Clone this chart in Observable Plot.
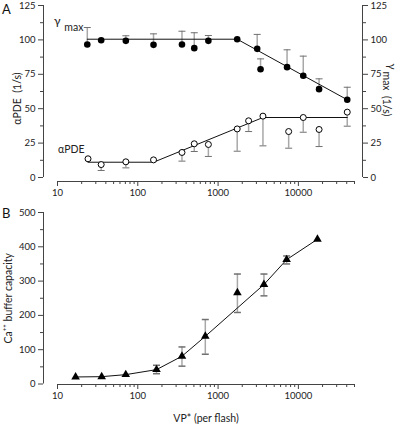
<!DOCTYPE html>
<html><head><meta charset="utf-8">
<script src="https://cdn.jsdelivr.net/npm/d3@7"></script>
<script src="https://cdn.jsdelivr.net/npm/@observablehq/plot@0.6"></script>
<style>
body{margin:0;background:#fff;}
#chart{width:400px;height:425px;position:relative;font-family:Lato,'Open Sans',sans-serif;}
#chart svg{display:block;}
.panel{position:absolute;left:2px;font-size:13px;color:#111;line-height:1;}
</style></head><body><div id="chart"><div class="panel" style="top:3px">A</div><div class="panel" style="top:207px">B</div></div>
<script>
// ---- shared x axis ----
const xDomain = [10, 50000];
const xTicksMajor = [10, 100, 1000, 10000];
const xTicksMinor = [20,30,40,50,60,70,80,90,200,300,400,500,600,700,800,900,2000,3000,4000,5000,6000,7000,8000,9000,20000,30000,40000,50000];

// ---- Panel A ----
const yTicksA = [0, 25, 50, 75, 100, 125];
const yMinorA = [12.5, 37.5, 62.5, 87.5, 112.5];
const gammaVP = [23.5, 35, 71, 157, 355, 505, 757, 1730, 3070, 3380, 7230, 11500, 18100, 40600];
const gammaMax = [96.7, 99.8, 99.3, 96.4, 96.7, 94, 99.3, 100.5, 93.5, 78.7, 80.2, 73.9, 64.2, 56.5];
const gammaErrTop = [109, null, 103, 104.4, 106.3, 105.2, 103.2, null, 104, 86.2, 92.8, 88.2, 71.7, 65.6];
const gammaFitVP = [23.5, 1730, 40600];
const gammaFit = [100.5, 100.5, 56.5];

const alphaVP = [24, 35, 71, 157, 355, 505, 757, 1730, 2400, 3620, 7570, 11500, 18100, 40600];
const alphaPDE = [13.6, 9.4, 11.4, 12.8, 18.2, 24.5, 24, 35.3, 41.2, 44.6, 33.4, 43.6, 34.9, 47.5];
const alphaErrBottom = [null, 5.1, 7, null, 11.9, 18.9, 15.3, 19.1, 33.4, 23, 21.3, 32.9, 22.5, 37.3];
const alphaFitVP = [24, 157, 3620, 40600];
const alphaFit = [11.1, 11.1, 43.6, 43.6];

// ---- Panel B ----
const yTicksB = [0, 100, 200, 300, 400, 500];
const yMinorB = [50, 150, 250, 350, 450];
const bufVP = [16.8, 35.5, 70.8, 171, 355, 693, 1740, 3725, 7140, 17280];
const bufCap = [20.5, 21.4, 27.3, 41.9, 81, 139, 266, 290, 362.6, 422];
const bufErrLow = [null, null, null, 30, 52, 86.8, 208.5, 257, 350, null];
const bufErrHigh = [null, null, null, 54.6, 108, 188, 320.6, 320.6, 373.3, null];
const bufFitVP = [16.8, 35.5, 70.8, 171, 355, 693, 3725, 7140, 17280];
const bufFit = [20.5, 21.4, 27.3, 41.9, 81, 139, 290, 362.6, 422];

const font = "Lato, 'Open Sans', sans-serif";
const capSymbol = {draw(ctx) { ctx.moveTo(-3.5, 0); ctx.lineTo(3.5, 0); }};
const stemColor = "#a8a8a8", capColor = "#707070", axisColor = "#444";

const gammaRows = gammaVP.map((vp, i) => ({vp, v: gammaMax[i], e: gammaErrTop[i]}));
const alphaRows = alphaVP.map((vp, i) => ({vp, v: alphaPDE[i], e: alphaErrBottom[i]}));
const gammaFitRows = gammaFitVP.map((vp, i) => ({vp, v: gammaFit[i]}));
const alphaFitRows = alphaFitVP.map((vp, i) => ({vp, v: alphaFit[i]}));
const bufRows = bufVP.map((vp, i) => ({vp, v: bufCap[i], lo: bufErrLow[i], hi: bufErrHigh[i]}));
const bufFitRows = bufFitVP.map((vp, i) => ({vp, v: bufFit[i]}));

function xAxes() {
  return [
    Plot.axisX({anchor: "bottom", ticks: xTicksMajor, tickSize: 5, tickPadding: 3, tickFormat: d => String(d), label: null, stroke: axisColor, fontSize: 9.5}),
    Plot.axisX({anchor: "bottom", ticks: xTicksMinor, tickSize: 3, text: null, label: null, stroke: axisColor})
  ];
}

const plotA = Plot.plot({
  width: 400, height: 200,
  marginLeft: 43, marginRight: 38, marginTop: 5, marginBottom: 19,
  style: {fontFamily: font, fontSize: "9.5px", color: "#222", background: "white"},
  x: {type: "log", domain: xDomain, range: [57, 354], axis: null},
  y: {domain: [0, 125], range: [177, 5], axis: null},
  marks: [
    Plot.ruleX([xDomain[0]], {y1: yTicksA[0], y2: yTicksA[yTicksA.length - 1], dx: -14, stroke: axisColor}),
    Plot.ruleX([xDomain[1]], {y1: yTicksA[0], y2: yTicksA[yTicksA.length - 1], dx: 8, stroke: axisColor}),
    Plot.ruleY([0], {x1: xDomain[0], x2: xDomain[1], dy: 4, stroke: axisColor}),
    Plot.axisY({anchor: "left", ticks: yTicksA, tickSize: 5, tickPadding: 3, label: null, stroke: axisColor}),
    Plot.axisY({anchor: "left", ticks: yMinorA, tickSize: 3, text: null, label: null, stroke: axisColor}),
    Plot.axisY({anchor: "right", ticks: yTicksA, tickSize: 5, tickPadding: 3, label: null, stroke: axisColor}),
    Plot.axisY({anchor: "right", ticks: yMinorA, tickSize: 3, text: null, label: null, stroke: axisColor}),
    ...xAxes(),
    // error bars
    Plot.ruleX(gammaRows.filter(d => d.e != null), {x: "vp", y1: "v", y2: "e", stroke: stemColor, strokeWidth: 1.5}),
    Plot.dot(gammaRows.filter(d => d.e != null), {x: "vp", y: "e", symbol: capSymbol, stroke: capColor, fill: "none", strokeWidth: 1}),
    Plot.ruleX(alphaRows.filter(d => d.e != null), {x: "vp", y1: "v", y2: "e", stroke: stemColor, strokeWidth: 1.5}),
    Plot.dot(alphaRows.filter(d => d.e != null), {x: "vp", y: "e", symbol: capSymbol, stroke: capColor, fill: "none", strokeWidth: 1}),
    // fits
    Plot.line(gammaFitRows, {x: "vp", y: "v", stroke: "#111", strokeWidth: 1}),
    Plot.line(alphaFitRows, {x: "vp", y: "v", stroke: "#111", strokeWidth: 1}),
    // points
    Plot.dot(gammaRows, {x: "vp", y: "v", r: 3.3, fill: "#000", stroke: "none"}),
    Plot.dot(alphaRows, {x: "vp", y: "v", r: 3, fill: "white", stroke: "#000", strokeWidth: 1}),
    // series labels
    Plot.text([gammaFitRows[0]], {x: "vp", y: "v", text: () => "\u03b3", dx: -30, dy: -18, fontSize: 12, fill: "#222"}),
    Plot.text([gammaFitRows[0]], {x: "vp", y: "v", text: () => "max", textAnchor: "start", dx: -23, dy: -12, fontSize: 10.5, fill: "#222"}),
    Plot.text([alphaRows[0]], {x: "vp", y: "v", text: () => "\u03b1PDE", textAnchor: "start", dx: -30, dy: -9, fontSize: 10.5, fill: "#222"}),
    // axis titles
    Plot.text(["\u03b1PDE\u00a0\u00a0(1/s)"], {x: xDomain[0], y: 62.5, rotate: -90, dx: -40, dy: 7, fontSize: 10.5, fill: "#222"}),
    Plot.text(["\u03b3"], {x: xDomain[1], y: 62.5, rotate: 90, dx: 37, dy: -25, fontSize: 11, fill: "#222"}),
    Plot.text(["max\u00a0\u00a0(1/s)"], {x: xDomain[1], y: 62.5, rotate: 90, textAnchor: "start", dx: 32, dy: -20, fontSize: 10.5, fill: "#222"})
  ]
});

const plotB = Plot.plot({
  width: 400, height: 225,
  marginLeft: 43, marginRight: 38, marginTop: 12, marginBottom: 41,
  style: {fontFamily: font, fontSize: "9.5px", color: "#222", background: "white"},
  x: {type: "log", domain: xDomain, range: [57, 354], axis: null},
  y: {domain: [0, 500], range: [183.5, 12], axis: null},
  marks: [
    Plot.ruleX([xDomain[0]], {y1: yTicksB[0], y2: yTicksB[yTicksB.length - 1], dx: -14, stroke: axisColor}),
    Plot.ruleY([0], {x1: xDomain[0], x2: xDomain[1], dy: 0.5, stroke: axisColor}),
    Plot.axisY({anchor: "left", ticks: yTicksB, tickSize: 5, tickPadding: 3, label: null, stroke: axisColor}),
    Plot.axisY({anchor: "left", ticks: yMinorB, tickSize: 3, text: null, label: null, stroke: axisColor}),
    ...xAxes(),
    Plot.ruleX(bufRows.filter(d => d.lo != null), {x: "vp", y1: "lo", y2: "hi", stroke: stemColor, strokeWidth: 1.5}),
    Plot.dot(bufRows.filter(d => d.lo != null), {x: "vp", y: "lo", symbol: capSymbol, stroke: capColor, fill: "none"}),
    Plot.dot(bufRows.filter(d => d.hi != null), {x: "vp", y: "hi", symbol: capSymbol, stroke: capColor, fill: "none"}),
    Plot.line(bufFitRows, {x: "vp", y: "v", stroke: "#111", strokeWidth: 1}),
    Plot.dot(bufRows, {x: "vp", y: "v", symbol: "triangle", r: 3.2, fill: "#000", stroke: "none"}),
    Plot.text(["Ca\u207a\u207a buffer capacity"], {x: xDomain[0], y: 250, rotate: -90, dx: -49, fontSize: 10.5, fill: "#222"}),
    Plot.text(["VP* (per flash)"], {x: 1000, y: 0, dx: -12, dy: 35, fontSize: 10.5, fill: "#222"})
  ]
});

const chart = document.getElementById("chart");
chart.insertBefore(plotA, chart.firstChild);
chart.insertBefore(plotB, plotA.nextSibling);
</script>
</body></html>
